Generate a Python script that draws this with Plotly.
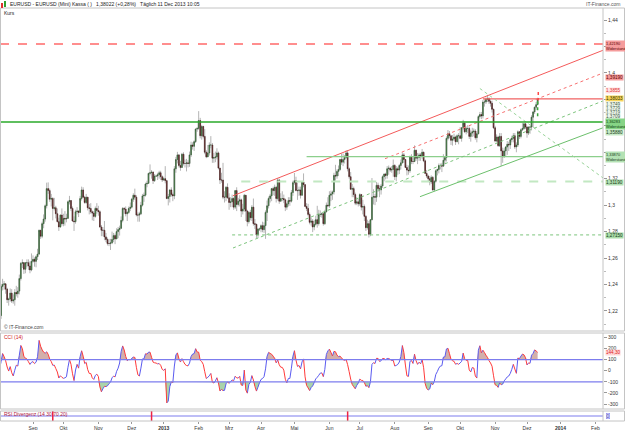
import numpy as np
import pandas as pd
import plotly.graph_objects as go

# ---------------- data (EUR/USD daily) ----------------
dates = pd.bdate_range("2012-07-16", "2013-12-11")
first_open = 1.2300

close = [
    # Jul 2012 (only warm-up for the CCI, left of the visible range)
    1.2290, 1.2265, 1.2260, 1.2280, 1.2155, 1.2115, 1.2065, 1.2145, 1.2290, 1.2315, 1.2275, 1.2300,
    # Aug 2012
    1.2225, 1.2165, 1.2385, 1.2400, 1.2405, 1.2365, 1.2285, 1.2290, 1.2335, 1.2275, 1.2285, 1.2340,
    1.2330, 1.2350, 1.2445, 1.2560, 1.2565, 1.2515, 1.2565, 1.2565, 1.2540, 1.2510, 1.2575,
    # Sep 2012
    1.2590, 1.2575, 1.2610, 1.2630, 1.2810, 1.2765, 1.2860, 1.2895, 1.2995, 1.3125, 1.3110, 1.3045,
    1.3050, 1.2975, 1.2980, 1.2935, 1.2875, 1.2835, 1.2925, 1.2860,
    # Oct 2012
    1.2900, 1.2895, 1.2900, 1.3025, 1.3035, 1.2975, 1.2880, 1.2875, 1.2950, 1.2955, 1.2945, 1.3050,
    1.3115, 1.3060, 1.3020, 1.3060, 1.2980, 1.2975, 1.2950, 1.2940, 1.2915, 1.2975, 1.2960,
    # Nov 2012
    1.2950, 1.2835, 1.2810, 1.2810, 1.2760, 1.2740, 1.2710, 1.2710, 1.2715, 1.2740, 1.2770, 1.2745,
    1.2800, 1.2815, 1.2825, 1.2885, 1.2975, 1.2970, 1.2935, 1.2945, 1.2975, 1.2985,
    # Dec 2012
    1.3045, 1.3075, 1.3060, 1.2925, 1.2925, 1.2935, 1.3000, 1.3070, 1.3075, 1.3160, 1.3165, 1.3240,
    1.3245, 1.3250, 1.3185, 1.3220, 1.3220, 1.3230, 1.3245, 1.3215, 1.3190,
    # Jan 2013
    1.3200, 1.3185, 1.3050, 1.3065, 1.3115, 1.3080, 1.3070, 1.3275, 1.3345, 1.3380, 1.3300, 1.3285,
    1.3385, 1.3315, 1.3315, 1.3320, 1.3315, 1.3380, 1.3455, 1.3445, 1.3480, 1.3575, 1.3580,
    # Feb 2013
    1.3640, 1.3525, 1.3595, 1.3520, 1.3400, 1.3365, 1.3395, 1.3455, 1.3455, 1.3355, 1.3360, 1.3365,
    1.3395, 1.3280, 1.3190, 1.3190, 1.3060, 1.3060, 1.3135, 1.3055,
    # Mar 2013
    1.3020, 1.3025, 1.3050, 1.2985, 1.3110, 1.3005, 1.3030, 1.3040, 1.2955, 1.2970, 1.3075, 1.2955,
    1.2875, 1.2945, 1.2905, 1.2985, 1.2860, 1.2855, 1.2775, 1.2820, 1.2820,
    # Apr 2013
    1.2845, 1.2815, 1.2845, 1.2945, 1.2995, 1.3050, 1.3070, 1.3125, 1.3110, 1.3135, 1.3050, 1.3190,
    1.3030, 1.3050, 1.3050, 1.3040, 1.2985, 1.3010, 1.3035, 1.3030, 1.3095, 1.3170,
    # May 2013
    1.3185, 1.3110, 1.3110, 1.3115, 1.3075, 1.3175, 1.3155, 1.2990, 1.2975, 1.2930, 1.2870, 1.2880,
    1.2835, 1.2855, 1.2890, 1.2860, 1.2930, 1.2930, 1.2935, 1.2860, 1.2950, 1.3000, 1.2995,
    # Jun 2013
    1.3075, 1.3085, 1.3100, 1.3225, 1.3220, 1.3255, 1.3270, 1.3345, 1.3325, 1.3345, 1.3360, 1.3395,
    1.3275, 1.3215, 1.3120, 1.3125, 1.3080, 1.3015, 1.3025, 1.3010,
    # Jul 2013
    1.3080, 1.2985, 1.2990, 1.2915, 1.2830, 1.2860, 1.2780, 1.2890, 1.3060, 1.3065, 1.3060, 1.3150,
    1.3125, 1.3115, 1.3145, 1.3215, 1.3235, 1.3225, 1.3275, 1.3280, 1.3265, 1.3270, 1.3300,
    # Aug 2013
    1.3215, 1.3275, 1.3265, 1.3300, 1.3320, 1.3380, 1.3345, 1.3285, 1.3265, 1.3260, 1.3365, 1.3330,
    1.3330, 1.3415, 1.3355, 1.3360, 1.3380, 1.3370, 1.3400, 1.3335, 1.3240, 1.3220,
    # Sep 2013
    1.3200, 1.3175, 1.3210, 1.3115, 1.3180, 1.3260, 1.3270, 1.3300, 1.3300, 1.3295, 1.3340, 1.3360,
    1.3505, 1.3540, 1.3525, 1.3490, 1.3500, 1.3515, 1.3480, 1.3525, 1.3525,
    # Oct 2013
    1.3505, 1.3585, 1.3620, 1.3555, 1.3580, 1.3580, 1.3520, 1.3545, 1.3555, 1.3560, 1.3510, 1.3540,
    1.3670, 1.3685, 1.3675, 1.3780, 1.3780, 1.3800, 1.3805, 1.3785, 1.3770, 1.3725, 1.3585,
    # Nov 2013
    1.3485, 1.3515, 1.3450, 1.3520, 1.3410, 1.3365, 1.3410, 1.3440, 1.3460, 1.3455, 1.3495, 1.3505,
    1.3525, 1.3440, 1.3455, 1.3555, 1.3520, 1.3570, 1.3580, 1.3615, 1.3590,
    # Dec 2013
    1.3545, 1.3590, 1.3590, 1.3665, 1.3705, 1.3740, 1.3760, 1.3802,
]

high = [
    1.2300, 1.2325, 1.2285, 1.2320, 1.2295, 1.2150, 1.2125, 1.2160, 1.2315, 1.2390, 1.2325, 1.2335,
    1.2345, 1.2444, 1.2405, 1.2443, 1.2426, 1.2410, 1.2375, 1.2300, 1.2370, 1.2365, 1.2325, 1.2365,
    1.2390, 1.2380, 1.2475, 1.2570, 1.2590, 1.2570, 1.2570, 1.2590, 1.2590, 1.2575, 1.2635,
    1.2620, 1.2605, 1.2620, 1.2670, 1.2815, 1.2805, 1.2875, 1.2930, 1.3005, 1.3170, 1.3172, 1.3125,
    1.3085, 1.3060, 1.3055, 1.2995, 1.2975, 1.2905, 1.2930, 1.2975,
    1.2935, 1.2955, 1.2935, 1.3035, 1.3070, 1.3035, 1.2990, 1.2915, 1.2965, 1.2985, 1.2960, 1.3070,
    1.3140, 1.3135, 1.3070, 1.3085, 1.3060, 1.3010, 1.3015, 1.2960, 1.2955, 1.2990, 1.3015,
    1.2995, 1.2960, 1.2850, 1.2835, 1.2880, 1.2790, 1.2755, 1.2745, 1.2745, 1.2800, 1.2790, 1.2785,
    1.2825, 1.2835, 1.2845, 1.2915, 1.2985, 1.2985, 1.2990, 1.2955, 1.2990, 1.3020,
    1.3055, 1.3090, 1.3125, 1.3075, 1.2945, 1.2950, 1.3025, 1.3085, 1.3095, 1.3170, 1.3185, 1.3245,
    1.3308, 1.3265, 1.3255, 1.3235, 1.3230, 1.3245, 1.3260, 1.3260, 1.3225,
    1.3215, 1.3295, 1.3190, 1.3085, 1.3120, 1.3135, 1.3095, 1.3295, 1.3365, 1.3403, 1.3385, 1.3335,
    1.3395, 1.3400, 1.3345, 1.3350, 1.3340, 1.3405, 1.3480, 1.3475, 1.3490, 1.3580, 1.3590,
    1.3711, 1.3660, 1.3605, 1.3600, 1.3575, 1.3415, 1.3455, 1.3475, 1.3522, 1.3470, 1.3395, 1.3405,
    1.3430, 1.3405, 1.3280, 1.3245, 1.3320, 1.3105, 1.3145, 1.3165,
    1.3090, 1.3060, 1.3080, 1.3060, 1.3115, 1.3135, 1.3055, 1.3075, 1.3050, 1.3010, 1.3085, 1.3000,
    1.2965, 1.2955, 1.2965, 1.3000, 1.3050, 1.2895, 1.2860, 1.2825, 1.2830,
    1.2855, 1.2875, 1.2870, 1.2960, 1.3035, 1.3065, 1.3085, 1.3130, 1.3140, 1.3155, 1.3145, 1.3205,
    1.3200, 1.3090, 1.3105, 1.3080, 1.3050, 1.3020, 1.3060, 1.3060, 1.3115, 1.3185,
    1.3243, 1.3215, 1.3170, 1.3140, 1.3140, 1.3180, 1.3240, 1.3160, 1.3015, 1.3010, 1.2945, 1.2905,
    1.2895, 1.2885, 1.2920, 1.2995, 1.2965, 1.2960, 1.2945, 1.2945, 1.2965, 1.3020, 1.3060,
    1.3105, 1.3110, 1.3110, 1.3245, 1.3305, 1.3270, 1.3300, 1.3350, 1.3390, 1.3390, 1.3380, 1.3415,
    1.3416, 1.3285, 1.3250, 1.3160, 1.3140, 1.3095, 1.3060, 1.3050,
    1.3090, 1.3085, 1.3040, 1.3005, 1.2925, 1.2890, 1.2880, 1.2895, 1.3205, 1.3120, 1.3085, 1.3175,
    1.3170, 1.3150, 1.3160, 1.3225, 1.3240, 1.3245, 1.3295, 1.3300, 1.3290, 1.3295, 1.3345,
    1.3310, 1.3295, 1.3290, 1.3310, 1.3345, 1.3400, 1.3395, 1.3350, 1.3305, 1.3300, 1.3375, 1.3385,
    1.3360, 1.3452, 1.3420, 1.3395, 1.3395, 1.3395, 1.3425, 1.3405, 1.3345, 1.3265,
    1.3230, 1.3220, 1.3225, 1.3220, 1.3190, 1.3270, 1.3275, 1.3315, 1.3315, 1.3320, 1.3385, 1.3365,
    1.3520, 1.3568, 1.3560, 1.3525, 1.3530, 1.3540, 1.3525, 1.3535, 1.3545,
    1.3590, 1.3590, 1.3645, 1.3625, 1.3595, 1.3605, 1.3595, 1.3565, 1.3585, 1.3580, 1.3575, 1.3560,
    1.3680, 1.3705, 1.3705, 1.3795, 1.3800, 1.3815, 1.3832, 1.3815, 1.3800, 1.3790, 1.3730,
    1.3600, 1.3535, 1.3525, 1.3545, 1.3545, 1.3435, 1.3430, 1.3445, 1.3485, 1.3480, 1.3505, 1.3525,
    1.3545, 1.3545, 1.3475, 1.3565, 1.3560, 1.3580, 1.3620, 1.3620, 1.3620,
    1.3600, 1.3595, 1.3600, 1.3680, 1.3710, 1.3745, 1.3780, 1.3812,
]

low = [
    1.2225, 1.2220, 1.2230, 1.2245, 1.2145, 1.2065, 1.2042, 1.2060, 1.2125, 1.2260, 1.2250, 1.2255,
    1.2225, 1.2133, 1.2140, 1.2355, 1.2360, 1.2330, 1.2260, 1.2240, 1.2270, 1.2260, 1.2255, 1.2240,
    1.2310, 1.2300, 1.2325, 1.2430, 1.2525, 1.2480, 1.2485, 1.2530, 1.2510, 1.2485, 1.2500,
    1.2565, 1.2535, 1.2530, 1.2585, 1.2625, 1.2745, 1.2750, 1.2825, 1.2875, 1.2975, 1.3085, 1.3025,
    1.2990, 1.2885, 1.2960, 1.2900, 1.2870, 1.2805, 1.2830, 1.2845,
    1.2840, 1.2845, 1.2870, 1.2895, 1.3005, 1.2955, 1.2875, 1.2805, 1.2860, 1.2930, 1.2910, 1.2940,
    1.3035, 1.3055, 1.3010, 1.3010, 1.2960, 1.2930, 1.2935, 1.2885, 1.2880, 1.2905, 1.2935,
    1.2920, 1.2830, 1.2765, 1.2765, 1.2735, 1.2720, 1.2695, 1.2690, 1.2661, 1.2705, 1.2720, 1.2705,
    1.2745, 1.2750, 1.2770, 1.2820, 1.2870, 1.2935, 1.2915, 1.2880, 1.2935, 1.2955,
    1.2975, 1.3025, 1.3040, 1.2915, 1.2875, 1.2875, 1.2925, 1.2990, 1.3025, 1.3065, 1.3135, 1.3160,
    1.3225, 1.3200, 1.3160, 1.3175, 1.3215, 1.3190, 1.3200, 1.3190, 1.3175,
    1.3185, 1.3165, 1.3045, 1.2998, 1.3020, 1.3065, 1.3030, 1.3045, 1.3245, 1.3315, 1.3285, 1.3260,
    1.3285, 1.3300, 1.3285, 1.3255, 1.3285, 1.3290, 1.3365, 1.3420, 1.3410, 1.3470, 1.3555,
    1.3570, 1.3505, 1.3495, 1.3505, 1.3385, 1.3355, 1.3365, 1.3375, 1.3430, 1.3320, 1.3320, 1.3325,
    1.3345, 1.3270, 1.3160, 1.3170, 1.3045, 1.3020, 1.3030, 1.3050,
    1.2965, 1.2985, 1.2985, 1.2965, 1.2970, 1.2955, 1.2990, 1.2990, 1.2910, 1.2930, 1.2950, 1.2880,
    1.2840, 1.2860, 1.2885, 1.2880, 1.2845, 1.2820, 1.2750, 1.2750, 1.2805,
    1.2795, 1.2795, 1.2790, 1.2745, 1.2880, 1.2975, 1.3020, 1.3030, 1.3075, 1.3070, 1.3020, 1.3035,
    1.3010, 1.3025, 1.3030, 1.3015, 1.2955, 1.2965, 1.2990, 1.2995, 1.3020, 1.3070,
    1.3155, 1.3105, 1.3040, 1.3070, 1.3050, 1.3070, 1.3135, 1.2990, 1.2955, 1.2915, 1.2855, 1.2845,
    1.2796, 1.2810, 1.2845, 1.2830, 1.2845, 1.2910, 1.2905, 1.2845, 1.2850, 1.2945, 1.2985,
    1.2980, 1.3030, 1.3040, 1.3080, 1.3185, 1.3200, 1.3220, 1.3260, 1.3305, 1.3295, 1.3315, 1.3350,
    1.3255, 1.3200, 1.3120, 1.3060, 1.3060, 1.3000, 1.3000, 1.2990,
    1.2995, 1.2960, 1.2930, 1.2880, 1.2805, 1.2815, 1.2755, 1.2765, 1.2885, 1.3005, 1.3000, 1.3025,
    1.3100, 1.3060, 1.3080, 1.3130, 1.3180, 1.3195, 1.3200, 1.3230, 1.3250, 1.3245, 1.3215,
    1.3190, 1.3180, 1.3230, 1.3235, 1.3270, 1.3315, 1.3320, 1.3280, 1.3225, 1.3230, 1.3245, 1.3310,
    1.3310, 1.3325, 1.3335, 1.3310, 1.3335, 1.3335, 1.3350, 1.3325, 1.3240, 1.3205,
    1.3175, 1.3150, 1.3160, 1.3110, 1.3105, 1.3170, 1.3225, 1.3240, 1.3270, 1.3250, 1.3310, 1.3310,
    1.3330, 1.3490, 1.3505, 1.3455, 1.3450, 1.3485, 1.3455, 1.3475, 1.3460,
    1.3500, 1.3480, 1.3570, 1.3545, 1.3535, 1.3545, 1.3500, 1.3480, 1.3515, 1.3520, 1.3495, 1.3475,
    1.3535, 1.3655, 1.3650, 1.3655, 1.3745, 1.3765, 1.3780, 1.3765, 1.3745, 1.3700, 1.3575,
    1.3475, 1.3475, 1.3440, 1.3440, 1.3296, 1.3320, 1.3360, 1.3365, 1.3380, 1.3410, 1.3425, 1.3475,
    1.3475, 1.3425, 1.3400, 1.3440, 1.3500, 1.3505, 1.3560, 1.3570, 1.3575,
    1.3510, 1.3530, 1.3540, 1.3565, 1.3590, 1.3690, 1.3720, 1.3755,
]

assert len(close) == len(high) == len(low) == len(dates), (len(close), len(high), len(low), len(dates))
open_ = [first_open] + close[:-1]

# drawn lines (start point, end point) in (date, price)
trend_lines = {
    "red_channel_top":   [("2013-03-05 14:00", 1.3071), ("2014-02-10", 1.4171)],
    "red_channel_mid":   [("2013-07-23 14:00", 1.3351), ("2014-02-10", 1.3999)],
    "red_high_level":    [("2013-10-22", 1.3803), ("2014-02-10", 1.3803)],
    "green_level_mid":   [("2013-05-13", 1.3367), ("2014-02-10", 1.3367)],
    "green_level_dash":  [("2013-03-13", 1.3178), ("2014-02-10", 1.3178)],
    "green_level_low":   [("2013-03-05", 1.2775), ("2014-02-10", 1.2775)],
    "green_channel_low": [("2013-03-05 14:00", 1.2676), ("2014-02-10", 1.3788)],
    "green_support":     [("2013-08-23 14:00", 1.3064), ("2014-02-10", 1.3585)],
    "green_fan_down":    [("2013-10-18", 1.3882), ("2014-02-10", 1.3206)],
    "proj_up":           [("2013-12-11 10:00", 1.3855), ("2013-12-11 10:00", 1.3791)],
    "proj_down":         [("2013-12-11 00:00", 1.3785), ("2013-12-11 00:00", 1.3670)],
}
full_levels = {"resist_dashed": 1.4219, "support_main": 1.36283}

# right-hand price boxes: (text, price)
price_labels = [
    ("1,42190<br>Widerstand", 1.4207),
    ("1,39190", 1.3965),
    ("1,3855", 1.3867),
    ("1,38033", 1.3807),
    ("1,3749", 1.3763),
    ("1,3729", 1.3733),
    ("1,3719", 1.3700),
    ("1,3709", 1.3670),
    ("1,36283<br>Widerstand", 1.3610),
    ("1,35880", 1.3553),
    ("1,33870<br>Widerstand", 1.3364),
    ("1,31190", 1.3172),
    ("1,27150", 1.2771),
]
cci_last_label = "144,30"

rsi_div_signals = ["2012-09-20", "2012-12-20", "2013-06-19"]

price_ticks = [1.22, 1.24, 1.26, 1.28, 1.30, 1.32, 1.34, 1.36, 1.38, 1.40, 1.42, 1.44]
price_ticktext = ["1,22", "1,24", "1,26", "1,28", "1,3", "1,32", "", "", "", "1,4", "", "1,44"]
cci_ticks = [-300, -200, -100, 0, 100, 200, 300]
month_ticks = ["2012-09-03", "2012-10-01", "2012-11-01", "2012-12-03", "2013-01-01", "2013-02-01",
               "2013-03-01", "2013-04-01", "2013-05-01", "2013-06-03", "2013-07-01", "2013-08-01",
               "2013-09-02", "2013-10-01", "2013-11-01", "2013-12-02", "2014-01-01", "2014-02-03"]
month_text = ["Sep", "Okt", "Nov", "Dez", "<b>2013</b>", "Feb", "Mrz", "Apr", "Mai", "Jun", "Jul",
              "Aug", "Sep", "Okt", "Nov", "Dez", "<b>2014</b>", "Feb"]

# ---------------- CCI(14) from the price data ----------------
tp = pd.Series((np.array(high) + np.array(low) + np.array(close)) / 3.0)
sma = tp.rolling(14).mean()
mad = tp.rolling(14).apply(lambda w: np.mean(np.abs(w - w.mean())), raw=True)
cci = ((tp - sma) / (0.015 * mad)).to_numpy()

# ---------------- layout helpers ----------------
W, H = 625, 430
FONT = "Liberation Sans"
def fx(p):
    return p / W
def fy(p):
    return 1 - p / H

PLOT_R = 603
X_RANGE = ["2012-08-02 07:00", "2014-02-10 00:00"]
rb = [dict(bounds=["sat", "mon"])]

fig = go.Figure()

# wicks (grey) and bodies
fig.add_trace(go.Candlestick(
    x=dates, open=open_, high=high, low=low, close=close,
    increasing=dict(line=dict(color="#b4b4b4", width=1), fillcolor="#b4b4b4"),
    decreasing=dict(line=dict(color="#b4b4b4", width=1), fillcolor="#b4b4b4"),
    whiskerwidth=0, hoverinfo="skip", xaxis="x", yaxis="y"))
body_hi = [max(o, c) for o, c in zip(open_, close)]
body_lo = [min(o, c) for o, c in zip(open_, close)]
fig.add_trace(go.Candlestick(
    x=dates, open=open_, high=body_hi, low=body_lo, close=close,
    increasing=dict(line=dict(color="#244a24", width=0.5), fillcolor="#5fa05f"),
    decreasing=dict(line=dict(color="#300c0c", width=0.5), fillcolor="#924040"),
    whiskerwidth=0, hoverinfo="skip", xaxis="x", yaxis="y"))

# CCI fills
start = 13
xd = list(dates[start:])
c_vis = cci[start:]
fig.add_trace(go.Scatter(x=xd, y=[100] * len(xd), mode="lines", line=dict(width=0),
                         xaxis="x2", yaxis="y2", hoverinfo="skip"))
fig.add_trace(go.Scatter(x=xd, y=np.maximum(c_vis, 100), mode="lines", line=dict(width=0),
                         fill="tonexty", fillcolor="rgba(175,110,100,0.55)",
                         xaxis="x2", yaxis="y2", hoverinfo="skip"))
fig.add_trace(go.Scatter(x=xd, y=[-100] * len(xd), mode="lines", line=dict(width=0),
                         xaxis="x2", yaxis="y2", hoverinfo="skip"))
fig.add_trace(go.Scatter(x=xd, y=np.minimum(c_vis, -100), mode="lines", line=dict(width=0),
                         fill="tonexty", fillcolor="rgba(100,175,100,0.55)",
                         xaxis="x2", yaxis="y2", hoverinfo="skip"))

# CCI line: blue rising, red falling
bx, by, rx, ry = [], [], [], []
for i in range(start, len(cci) - 1):
    seg_x = [dates[i], dates[i + 1], None]
    seg_y = [cci[i], cci[i + 1], None]
    if cci[i + 1] >= cci[i]:
        bx += seg_x; by += seg_y
    else:
        rx += seg_x; ry += seg_y
fig.add_trace(go.Scatter(x=bx, y=by, mode="lines", line=dict(color="#5a5af0", width=1),
                         xaxis="x2", yaxis="y2", hoverinfo="skip"))
fig.add_trace(go.Scatter(x=rx, y=ry, mode="lines", line=dict(color="#ff3a3a", width=1),
                         xaxis="x2", yaxis="y2", hoverinfo="skip"))

# invisible trace for the RSI panel axis
fig.add_trace(go.Scatter(x=[dates[0]], y=[0], mode="markers", marker=dict(opacity=0),
                         xaxis="x3", yaxis="y3", hoverinfo="skip"))

shapes = []
styles = {
    "red_channel_top":   dict(color="#f45a5a", width=1, dash="solid"),
    "red_channel_mid":   dict(color="#f87070", width=1, dash="dot"),
    "red_high_level":    dict(color="#f06262", width=1.2, dash="solid"),
    "green_level_mid":   dict(color="#8ccf8c", width=1.3, dash="solid"),
    "green_level_dash":  dict(color="#c2e8c2", width=2, dash="dash"),
    "green_level_low":   dict(color="#7cc47c", width=1, dash="dot"),
    "green_channel_low": dict(color="#7cc47c", width=1, dash="dot"),
    "green_support":     dict(color="#6cc06c", width=1, dash="solid"),
    "green_fan_down":    dict(color="#9ad49a", width=1, dash="dot"),
    "proj_up":           dict(color="#ff4a4a", width=1.5, dash="dot"),
    "proj_down":         dict(color="#3caa3c", width=1.5, dash="dot"),
}
for name, ((x0, y0), (x1, y1)) in trend_lines.items():
    shapes.append(dict(type="line", xref="x", yref="y", x0=x0, y0=y0, x1=x1, y1=y1,
                       line=styles[name], layer="above"))
shapes.append(dict(type="line", xref="x domain", yref="y", x0=0, x1=1,
                   y0=full_levels["resist_dashed"], y1=full_levels["resist_dashed"],
                   line=dict(color="#ff6a6a", width=1.5, dash="dash")))
shapes.append(dict(type="line", xref="x domain", yref="y", x0=0, x1=1,
                   y0=full_levels["support_main"], y1=full_levels["support_main"],
                   line=dict(color="#2aaa2a", width=1.6)))
# CCI +-100 lines
for lv in (100, -100):
    shapes.append(dict(type="line", xref="x2 domain", yref="y2", x0=0, x1=1, y0=lv, y1=lv,
                       line=dict(color="#7c7cee", width=1.2)))
# RSI divergence panel
shapes.append(dict(type="line", xref="x3 domain", yref="y3", x0=0, x1=1, y0=0, y1=0,
                   line=dict(color="#7c7cee", width=1.2)))
for d in rsi_div_signals:
    shapes.append(dict(type="line", xref="x3", yref="y3", x0=d, x1=d, y0=-1, y1=1,
                       line=dict(color="#ee2244", width=1.5)))
# panel frames
for t, b in [(8, 331), (333, 409), (411, 421)]:
    shapes.append(dict(type="rect", xref="paper", yref="paper", x0=fx(0.5), x1=fx(624.5),
                       y0=fy(b), y1=fy(t), line=dict(color="#c4c4c4", width=1)))
    shapes.append(dict(type="line", xref="paper", yref="paper", x0=fx(PLOT_R), x1=fx(PLOT_R),
                       y0=fy(b), y1=fy(t), line=dict(color="#c4c4c4", width=1)))
# title icon
shapes.append(dict(type="rect", xref="paper", yref="paper", x0=fx(1), x1=fx(3), y0=fy(8), y1=fy(3),
                   line=dict(width=0), fillcolor="#e03030"))
shapes.append(dict(type="rect", xref="paper", yref="paper", x0=fx(4), x1=fx(6), y0=fy(7), y1=fy(1),
                   line=dict(width=0), fillcolor="#30a030"))

annotations = []
def text_at(x, y, s, size=5, color="#222", anchor="left"):
    annotations.append(dict(xref="paper", yref="paper", x=fx(x), y=fy(y), text=s, showarrow=False,
                            xanchor=anchor, yanchor="middle", font=dict(size=size, color=color, family=FONT)))

text_at(8, 4.5, "EURUSD - EURUSD (Mini) Kassa ( )   1,38022 (+0,28%)   Täglich 11 Dec 2013 10:05", size=5)
text_at(2, 13, "Kurs", size=5)
text_at(622, 4, "IT-Finance.com", size=5, color="#555", anchor="right")
text_at(2, 327, "© IT-Finance.com", size=5, color="#444")
text_at(2, 336.5, "CCI (14)", size=5, color="#d02020")
text_at(2, 414, "RSI Divergenz (14 30 70 20)", size=5, color="#b02040")

label_style = {
    "1,42190<br>Widerstand": ("#f59c9c", "#600000"),
    "1,39190": ("#f59c9c", "#600000"),
    "1,3855": ("#ffe4e4", "#e03030"),
    "1,38033": ("#f7d55a", "#333300"),
    "1,3749": ("#eef6ee", "#3a5a3a"),
    "1,3729": ("#eef6ee", "#3a5a3a"),
    "1,3719": ("#eef6ee", "#3a5a3a"),
    "1,3709": ("#eef6ee", "#3a5a3a"),
    "1,36283<br>Widerstand": ("#86d486", "#0a3a0a"),
    "1,35880": ("#c6eac6", "#1a3a1a"),
    "1,33870<br>Widerstand": ("#b4e2b4", "#1a3a1a"),
    "1,31190": ("#b4e2b4", "#1a3a1a"),
    "1,27150": ("#a8dca8", "#1a3a1a"),
}
for txt, val in price_labels:
    bg, fg = label_style[txt]
    size = 3.9 if "Widerstand" in txt else 4.6
    annotations.append(dict(xref="paper", yref="y", x=fx(604.5), y=val, text=txt, showarrow=False,
                            xanchor="left", yanchor="middle", align="left", bgcolor=bg, borderpad=0,
                            font=dict(size=size, color=fg, family=FONT)))
annotations.append(dict(xref="paper", yref="y2", x=fx(605), y=float(cci[-1]), text=cci_last_label,
                        showarrow=False, xanchor="left", yanchor="middle", bgcolor="#ffd8d8", borderpad=0,
                        font=dict(size=4.6, color="#e02020", family=FONT)))
annotations.append(dict(xref="paper", yref="y3", x=fx(606), y=0, text="0", showarrow=False,
                        xanchor="left", yanchor="middle", bgcolor="#e6e6ff", borderpad=0,
                        bordercolor="#7c7cee", borderwidth=0.5,
                        font=dict(size=4.6, color="#3030a0", family=FONT)))

axis_common = dict(showgrid=False, zeroline=False, showline=False)
fig.update_layout(
    width=W, height=H, margin=dict(l=0, r=0, t=0, b=0),
    paper_bgcolor="white", plot_bgcolor="white", showlegend=False,
    font=dict(family=FONT, size=5, color="#333"),
    xaxis=dict(domain=[0, fx(PLOT_R)], anchor="y", range=X_RANGE, rangebreaks=rb,
               showticklabels=False, rangeslider=dict(visible=False), **axis_common),
    yaxis=dict(domain=[fy(331), fy(8)], anchor="x", side="right", range=[1.20484, 1.44907],
               tickvals=price_ticks, ticktext=price_ticktext, ticks="outside", ticklen=3,
               tickcolor="#999", tickfont=dict(size=5, color="#333"),
               minor=dict(dtick=0.01, ticks="outside", ticklen=2, tickcolor="#bbb"), **axis_common),
    xaxis2=dict(domain=[0, fx(PLOT_R)], anchor="y2", matches="x", range=X_RANGE, rangebreaks=rb,
                showticklabels=False, **axis_common),
    yaxis2=dict(domain=[fy(409), fy(333)], anchor="x2", side="right", range=[-345, 340],
                tickvals=cci_ticks, ticktext=[str(t) for t in cci_ticks], ticks="outside", ticklen=3,
                tickcolor="#999", tickfont=dict(size=5, color="#333"), **axis_common),
    xaxis3=dict(domain=[0, fx(PLOT_R)], anchor="y3", matches="x", range=X_RANGE, rangebreaks=rb,
                tickvals=month_ticks, ticktext=month_text, ticks="outside", ticklen=2, tickcolor="#999",
                tickfont=dict(size=5, color="#333"), **axis_common),
    yaxis3=dict(domain=[fy(421), fy(411)], anchor="x3", range=[-1, 1], showticklabels=False,
                **axis_common),
    shapes=shapes, annotations=annotations,
)

fig.write_html("out.html")
